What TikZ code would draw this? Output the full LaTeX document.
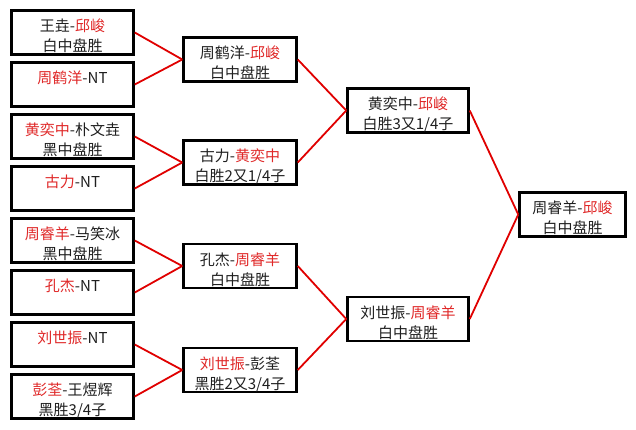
\documentclass[tikz,border=0pt]{standalone}
\usepackage{fontspec}
\newfontfamily\cjk{Noto Sans CJK SC}
\definecolor{winred}{HTML}{E02828}
\definecolor{linered}{HTML}{E00000}
\newcommand\rd[1]{\textcolor{winred}{#1}}
\begin{document}
\begin{tikzpicture}[x=1pt,y=-1pt,
  box/.style={draw=black, line width=2.5pt, inner sep=0pt, minimum height=44pt},
  leaf/.style={box, minimum width=122pt},
  rtwo/.style={box, minimum width=113pt},
  rthree/.style={box, minimum width=121pt},
  final/.style={box, minimum width=106pt},
  txt/.style={font=\cjk\fontsize{15}{20}\selectfont, align=center, inner sep=0pt, text=black!88},
  link/.style={draw=linered, line width=1.8pt}]
\useasboundingbox (0,0) rectangle (636,429);
\fill[white] (0,0) rectangle (636,429);
% boxes
\node[leaf] (L1) at (72.5,32.5) {};
\node[leaf] (L2) at (72.5,84.5) {};
\node[leaf] (L3) at (72.5,136.5) {};
\node[leaf] (L4) at (72.5,188.5) {};
\node[leaf] (L5) at (72.5,240.5) {};
\node[leaf] (L6) at (72.5,292.5) {};
\node[leaf] (L7) at (72.5,344.5) {};
\node[leaf] (L8) at (72.5,396.5) {};
\node[rtwo] (A) at (240,59.5) {};
\node[rtwo] (B) at (240,162.5) {};
\node[rtwo] (C) at (240,266) {};
\node[rtwo] (D) at (240,370) {};
\node[rthree] (E) at (408,110.5) {};
\node[rthree] (F) at (408,319) {};
\node[final] (G) at (572.5,214.5) {};
% texts
\node[txt] (tL1) at ([yshift=-5pt]L1.center) {\strut 王垚-\rd{邱峻}\\\strut 白中盘胜};
\node[txt] (tL2) at ([yshift=-5pt]L2.center) {\strut \rd{周鹤洋}-NT\\\strut};
\node[txt] (tL3) at ([yshift=-5pt]L3.center) {\strut \rd{黄奕中}-朴文垚\\\strut 黑中盘胜};
\node[txt] (tL4) at ([yshift=-5pt]L4.center) {\strut \rd{古力}-NT\\\strut};
\node[txt] (tL5) at ([yshift=-5pt]L5.center) {\strut \rd{周睿羊}-马笑冰\\\strut 黑中盘胜};
\node[txt] (tL6) at ([yshift=-5pt]L6.center) {\strut \rd{孔杰}-NT\\\strut};
\node[txt] (tL7) at ([yshift=-5pt]L7.center) {\strut \rd{刘世振}-NT\\\strut};
\node[txt] (tL8) at ([yshift=-5pt]L8.center) {\strut \rd{彭荃}-王煜辉\\\strut 黑胜3/4子};
\node[txt] (tA) at ([yshift=-5pt]A.center) {\strut 周鹤洋-\rd{邱峻}\\\strut 白中盘胜};
\node[txt] (tB) at ([yshift=-5pt]B.center) {\strut 古力-\rd{黄奕中}\\\strut 白胜2又1/4子};
\node[txt] (tC) at ([yshift=-5pt]C.center) {\strut 孔杰-\rd{周睿羊}\\\strut 白中盘胜};
\node[txt] (tD) at ([yshift=-5pt]D.center) {\strut \rd{刘世振}-彭荃\\\strut 黑胜2又3/4子};
\node[txt] (tE) at ([yshift=-5pt]E.center) {\strut 黄奕中-\rd{邱峻}\\\strut 白胜3又1/4子};
\node[txt] (tF) at ([yshift=-5pt]F.center) {\strut 刘世振-\rd{周睿羊}\\\strut 白中盘胜};
\node[txt] (tG) at ([yshift=-5pt]G.center) {\strut 周睿羊-\rd{邱峻}\\\strut 白中盘胜};
% connectors
\draw[link] (L1.east) -- (A.west);
\draw[link] (L2.east) -- (A.west);
\draw[link] (L3.east) -- (B.west);
\draw[link] (L4.east) -- (B.west);
\draw[link] (L5.east) -- (C.west);
\draw[link] (L6.east) -- (C.west);
\draw[link] (L7.east) -- (D.west);
\draw[link] (L8.east) -- (D.west);
\draw[link] (A.east) -- (E.west);
\draw[link] (B.east) -- (E.west);
\draw[link] (C.east) -- (F.west);
\draw[link] (D.east) -- (F.west);
\draw[link] (E.east) -- (G.west);
\draw[link] (F.east) -- (G.west);
\end{tikzpicture}
\end{document}
